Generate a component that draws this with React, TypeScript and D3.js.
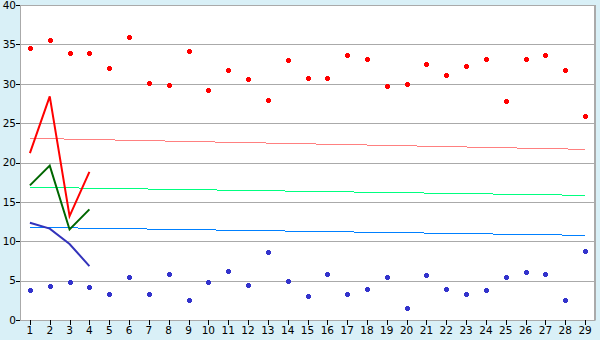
import React from "react";
import * as d3 from "d3";

const categories = Array.from({ length: 29 }, (_, i) => String(i + 1));
const yTicks = [0, 5, 10, 15, 20, 25, 30, 35, 40];

const redPoints = [34.5, 35.6, 33.9, 33.9, 32.0, 35.9, 30.1, 29.8, 34.2, 29.2, 31.8, 30.6, 27.9, 33.0, 30.7, 30.7, 33.6, 33.1, 29.7, 30.0, 32.5, 31.1, 32.3, 33.2, 27.8, 33.1, 33.7, 31.7, 25.9];
const bluePoints = [3.8, 4.3, 4.8, 4.15, 3.25, 5.4, 3.25, 5.9, 2.5, 4.8, 6.2, 4.4, 8.6, 4.9, 3.1, 5.8, 3.25, 3.9, 5.4, 1.5, 5.7, 4.0, 3.25, 3.8, 5.4, 6.05, 5.8, 2.6, 8.7];

const redLine = [21.2, 28.4, 13.2, 18.8];
const greenLine = [17.1, 19.6, 11.5, 14.05];
const navyLine = [12.35, 11.6, 9.65, 6.85];

const pinkTrend = [23.07, 21.67];
const greenTrend = [16.85, 15.83];
const blueTrend = [11.77, 10.75];

const W = 600, H = 340;
const left = 20, right = 595, top = 5, bottom = 320;

export default function App() {
  const x = d3.scaleBand<string>().domain(categories).range([left, right]);
  const cx = (i: number) => (x(categories[i]) as number) + x.bandwidth() / 2;
  const y = d3.scaleLinear().domain([0, 40]).range([bottom, top]);

  const line = d3.line<number>().x((_, i) => cx(i)).y((d) => y(d));
  const trend = (t: number[]) =>
    `M${cx(0)},${y(t[0])}L${cx(categories.length - 1)},${y(t[1])}`;

  const marker = (px: number, py: number) => {
    const a = 1.5, b = 2.5;
    return `M${px - a},${py - b}h${2 * a}v${b - a}h${b - a}v${2 * a}h${-(b - a)}v${b - a}h${-2 * a}v${-(b - a)}h${-(b - a)}v${-2 * a}h${b - a}z`;
  };

  const font = "'DejaVu Sans', Verdana, sans-serif";

  return (
    <svg width={W} height={H} style={{ position: "absolute", left: 0, top: 0 }}>
      <rect x={0} y={0} width={W} height={H} fill="#d9f0f7" />
      <rect x={left} y={top} width={right - left} height={bottom - top} fill="#ffffff" />
      {yTicks.map((t) => (
        <g key={t}>
          <line x1={left} x2={right} y1={Math.round(y(t)) + 0.5} y2={Math.round(y(t)) + 0.5} stroke="#aaaaaa" strokeWidth={1} />
          <line x1={left - 4} x2={left} y1={Math.round(y(t)) + 0.5} y2={Math.round(y(t)) + 0.5} stroke="#000" strokeWidth={1} />
          <text x={left - 4} y={y(t)} dy="0.36em" textAnchor="end" fontFamily={font} fontSize={10.5} fill="#000">{t}</text>
        </g>
      ))}
      <line x1={left + 0.5} x2={left + 0.5} y1={top} y2={bottom} stroke="#aaaaaa" strokeWidth={1} />
      <line x1={right} x2={right} y1={top} y2={bottom + 0.5} stroke="#aaaaaa" strokeWidth={2} />
      {categories.map((c, i) => (
        <g key={c}>
          <line x1={Math.round(cx(i)) + 0.5} x2={Math.round(cx(i)) + 0.5} y1={bottom} y2={bottom + 5} stroke="#000" strokeWidth={1} />
          <text x={cx(i)} y={bottom + 14} textAnchor="middle" fontFamily={font} fontSize={10.5} fill="#000">{c}</text>
        </g>
      ))}
      <path d={trend(pinkTrend)} stroke="#ff8080" strokeWidth={1} fill="none" shapeRendering="crispEdges" />
      <path d={trend(greenTrend)} stroke="#00ff80" strokeWidth={1} fill="none" shapeRendering="crispEdges" />
      <path d={trend(blueTrend)} stroke="#0080ff" strokeWidth={1} fill="none" shapeRendering="crispEdges" />
      <path d={line(redLine) as string} stroke="#ff0000" strokeWidth={2} fill="none" />
      <path d={line(greenLine) as string} stroke="#006600" strokeWidth={2} fill="none" />
      <path d={line(navyLine) as string} stroke="#3333bb" strokeWidth={2} fill="none" />
      {redPoints.map((v, i) => (
        <path key={"r" + i} d={marker(Math.round(cx(i)), Math.round(y(v)))} fill="#ff0000" shapeRendering="crispEdges" />
      ))}
      {bluePoints.map((v, i) => (
        <path key={"b" + i} d={marker(Math.round(cx(i)), Math.round(y(v)))} fill="#3333cc" shapeRendering="crispEdges" />
      ))}
    </svg>
  );
}
